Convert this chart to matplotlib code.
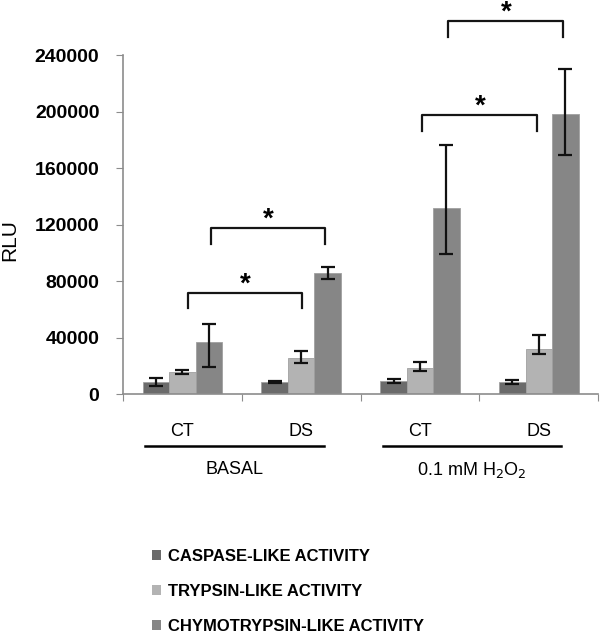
import numpy as np
import matplotlib
matplotlib.use('Agg')
import matplotlib.pyplot as plt
from matplotlib.patches import Patch

# values (RLU)
groups = ['CT', 'DS', 'CT', 'DS']
conditions = ['BASAL', '0.1 mM H$_2$O$_2$']
series = ['CASPASE-LIKE ACTIVITY', 'TRYPSIN-LIKE ACTIVITY', 'CHYMOTRYPSIN-LIKE ACTIVITY']

caspase = [8500, 8500, 9200, 8500]
caspase_lo = [2800, 1000, 1400, 1400]
caspase_hi = [2800, 1000, 1400, 1400]

trypsin = [15600, 25500, 18400, 31900]
trypsin_lo = [1700, 3600, 2100, 3600]
trypsin_hi = [1700, 4900, 4300, 9900]

chymo = [36800, 85700, 131700, 198200]
chymo_lo = [17800, 4300, 32600, 29000]
chymo_hi = [12700, 4200, 44600, 31900]

# significance brackets: (x start, x end, y, leg bottom)
brackets = [(0.548, 1.508, 71500, 60900),
            (0.741, 1.700, 117500, 106200),
            (2.519, 3.488, 197500, 186200),
            (2.738, 3.707, 264100, 252700)]

colors = ['#6b6b6b', '#b3b3b3', '#868686']

fig = plt.figure(figsize=(6, 6.39), dpi=100)
ax = fig.add_axes([0.205, 0.3834, 0.792, 0.5305])

x = np.arange(len(groups)) + 0.5
w = 0.223
vals = [caspase, trypsin, chymo]
los = [caspase_lo, trypsin_lo, chymo_lo]
his = [caspase_hi, trypsin_hi, chymo_hi]
for i in range(3):
    ax.bar(x + (i - 1) * w, vals[i], w, color=colors[i], edgecolor='#a0a0a0', linewidth=0.6,
           yerr=[los[i], his[i]], capsize=5,
           error_kw=dict(ecolor='#111111', elinewidth=1.6, capthick=1.6), zorder=2)

ax.set_xlim(0, 4)
ax.set_ylim(0, 240000)
ax.set_yticks(np.arange(0, 240001, 40000))
ax.set_yticklabels([str(v) for v in range(0, 240001, 40000)], fontsize=14, fontweight='bold',
                   family='Liberation Sans')
ax.set_xticks([0, 1, 2, 3, 4])
ax.set_xticklabels([])
ax.tick_params(axis='y', length=5, color='#8c8c8c', pad=12)
ax.tick_params(axis='x', length=5, color='#8c8c8c', direction='out')
for s in ['top', 'right']:
    ax.spines[s].set_visible(False)
for s in ['left', 'bottom']:
    ax.spines[s].set_color('#8c8c8c')
    ax.spines[s].set_linewidth(1.2)

fig.text(0.017, 0.624, 'RLU', rotation=90, ha='center', va='center', fontsize=15,
         family='Liberation Sans')

# brackets and stars
for x1, x2, y, yb in brackets:
    ax.plot([x1, x1, x2, x2], [yb, y, y, yb], color='#151515', lw=1.6, clip_on=False)
    ax.text((x1 + x2) / 2, y + 6000, '*', ha='center', va='center', fontsize=20,
            fontweight='bold', family='Liberation Sans', clip_on=False)

# group labels under the axis
tr = ax.get_xaxis_transform()
for xi, g in zip(x, groups):
    ax.text(xi, -0.112, g, transform=tr, ha='center', va='center', fontsize=13,
            family='Liberation Sans')
for k, c in enumerate(conditions):
    x1, x2 = 0.185 + 2 * k, 1.69 + 2 * k
    ax.plot([x1, x2], [-0.153, -0.153], transform=tr, color='black', lw=1.8, clip_on=False)
    ax.text((x1 + x2) / 2, -0.224, c, transform=tr, ha='center', va='center', fontsize=13,
            family='Liberation Sans')

handles = [Patch(facecolor=c, edgecolor='none') for c in colors]
fig.legend(handles, series, loc='upper left', bbox_to_anchor=(0.228, 0.165), frameon=False,
           handlelength=0.55, handleheight=0.55, handletextpad=0.45, labelspacing=1.2,
           prop=dict(family='Liberation Sans', weight='bold', size=12))

fig.savefig('out.png', dpi=100)
